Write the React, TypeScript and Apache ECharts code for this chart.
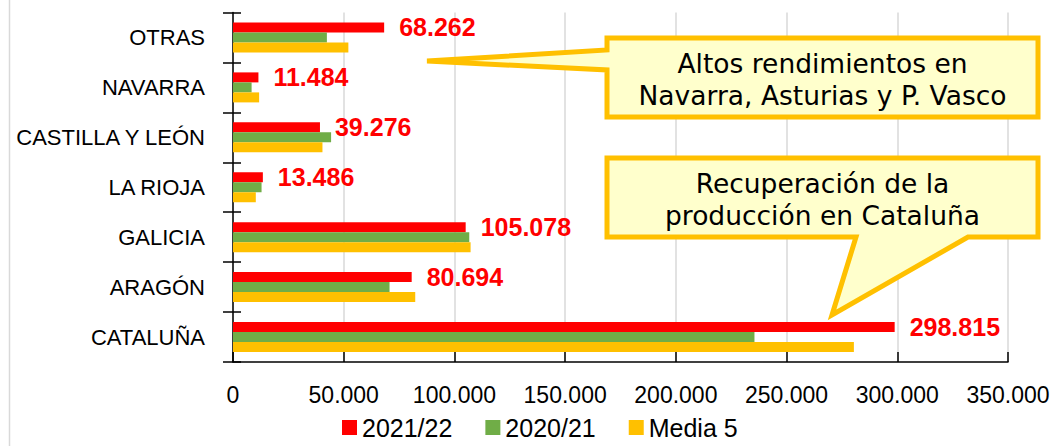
import React, { useEffect, useRef } from "react";
import * as echarts from "echarts";

const categories = ["CATALUÑA", "ARAGÓN", "GALICIA", "LA RIOJA", "CASTILLA Y LEÓN", "NAVARRA", "OTRAS"];
const s2122 = [298815, 80694, 105078, 13486, 39276, 11484, 68262];
const s2021 = [235500, 70700, 106700, 12900, 44300, 8400, 42400];
const media5 = [280400, 82300, 107300, 10300, 40400, 11800, 52100];
const xTicks = { min: 0, max: 350000, interval: 50000 };
const callout1 = "Altos rendimientos en\nNavarra, Asturias y P. Vasco";
const callout2 = "Recuperación de la\nproducción en Cataluña";

const fmt = (v: number) => String(Math.round(v)).replace(/\B(?=(\d{3})+(?!\d))/g, ".");

export default function App() {
  const ref = useRef<HTMLDivElement>(null);
  useEffect(() => {
    const chart = echarts.init(ref.current!, null, { renderer: "svg" });
    const font = "'Liberation Sans', Arial, sans-serif";
    const calloutFont = "'DejaVu Sans', sans-serif";
    chart.setOption({
      animation: false,
      textStyle: { fontFamily: font },
      grid: { left: 233, right: 48, top: 12.5, bottom: 84, containLabel: false },
      legend: {
        data: ["2021/22", "2020/21", "Media 5"],
        left: 342,
        top: 415,
        itemWidth: 15,
        itemHeight: 15,
        itemGap: 33,
        icon: "rect",
        padding: 0,
        textStyle: { fontFamily: font, fontSize: 25, color: "#000" },
      },
      xAxis: {
        type: "value",
        min: xTicks.min,
        max: xTicks.max,
        interval: xTicks.interval,
        axisLine: { show: true, lineStyle: { color: "#000", width: 1.5 } },
        axisTick: { show: true, inside: true, length: 10, lineStyle: { color: "#000", width: 1.5 } },
        axisLabel: { margin: 21, fontSize: 23, color: "#000", formatter: (v: number) => fmt(v) },
        splitLine: { show: true, lineStyle: { color: "#D9D9D9", width: 1.5 } },
      },
      yAxis: [
        {
          type: "category",
          data: categories,
          axisLine: { show: true, lineStyle: { color: "#000", width: 1.5 } },
          axisTick: { show: true, inside: false, length: 10, lineStyle: { color: "#000", width: 1.5 } },
          axisLabel: { margin: 28, fontSize: 22, color: "#000" },
          splitLine: { show: false },
        },
        {
          type: "category",
          data: categories,
          position: "left",
          axisLine: { show: false },
          axisTick: { show: true, inside: true, length: 8, lineStyle: { color: "#000", width: 1.5 } },
          axisLabel: { show: false },
          splitLine: { show: false },
        },
      ],
      series: [
        {
          name: "2021/22",
          type: "bar",
          data: s2122,
          barWidth: 10,
          barGap: "0%",
          itemStyle: { color: "#FF0000" },
          label: {
            show: true,
            position: "right",
            distance: 15,
            color: "#FF0000",
            fontWeight: "bold",
            fontSize: 25,
            fontFamily: font,
            formatter: (p: any) => fmt(p.value),
          },
        },
        {
          name: "2020/21",
          type: "bar",
          data: s2021,
          barWidth: 10,
          barGap: "0%",
          itemStyle: { color: "#70AD47" },
        },
        {
          name: "Media 5",
          type: "bar",
          data: media5,
          barWidth: 10,
          barGap: "0%",
          itemStyle: { color: "#FFC000" },
        },
      ],
      graphic: [
        {
          type: "line",
          shape: { x1: 9.5, y1: 0, x2: 9.5, y2: 446 },
          style: { stroke: "#D9D9D9", lineWidth: 1.5 },
          silent: true,
        },
        {
          type: "polygon",
          shape: {
            points: [
              [607, 38], [1038, 38], [1038, 117], [607, 117], [607, 70], [427, 61], [607, 50],
            ],
          },
          style: { fill: "#FFFFCC", stroke: "#FFC000", lineWidth: 5, lineJoin: "miter" },
          z: 100,
        },
        {
          type: "text",
          x: 822.5,
          y: 79,
          z: 101,
          style: {
            text: callout1,
            fontFamily: calloutFont,
            fontSize: 26.5,
            lineHeight: 32,
            fill: "#000",
            align: "center",
            verticalAlign: "middle",
          },
        },
        {
          type: "polygon",
          shape: {
            points: [
              [607, 158], [1038, 158], [1038, 237], [968, 237], [832, 315], [856, 237], [607, 237],
            ],
          },
          style: { fill: "#FFFFCC", stroke: "#FFC000", lineWidth: 5, lineJoin: "miter" },
          z: 100,
        },
        {
          type: "text",
          x: 822.5,
          y: 199,
          z: 101,
          style: {
            text: callout2,
            fontFamily: calloutFont,
            fontSize: 26.5,
            lineHeight: 32,
            fill: "#000",
            align: "center",
            verticalAlign: "middle",
          },
        },
      ],
    });
    return () => chart.dispose();
  }, []);
  return (
    <div
      ref={ref}
      style={{ position: "fixed", left: 0, top: 0, width: 1056, height: 446, background: "#fff" }}
    />
  );
}
